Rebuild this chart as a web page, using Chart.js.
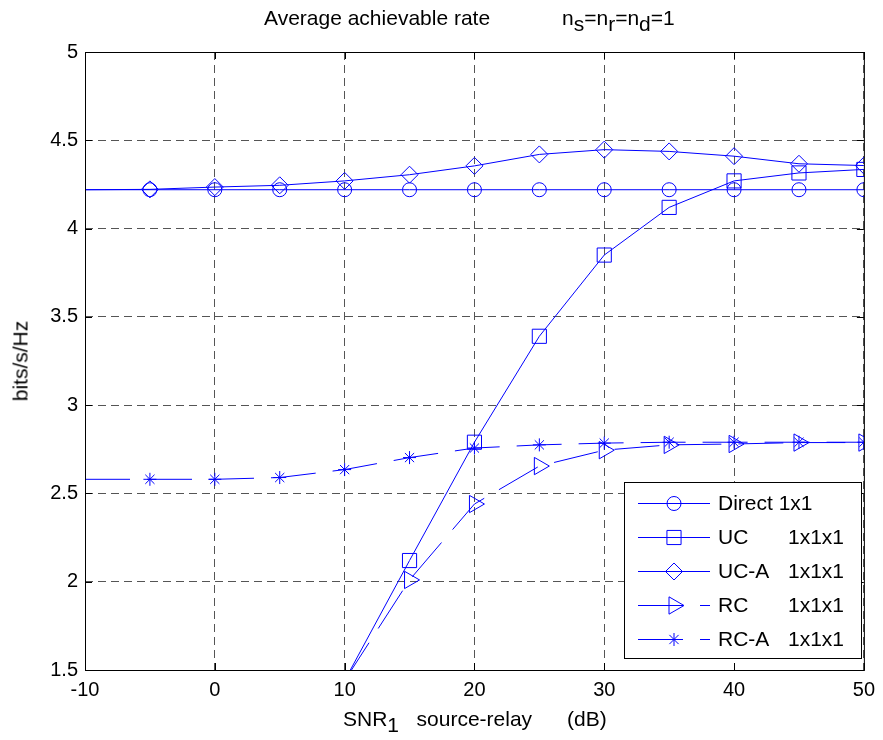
<!DOCTYPE html>
<html>
<head>
<meta charset="utf-8">
<script src="https://cdn.jsdelivr.net/npm/chart.js@4/dist/chart.umd.min.js"></script>
<style>
  body { margin: 0; background: #fff; }
  #wrap { position: relative; width: 883px; height: 740px; font-family: "Liberation Sans", Arial, sans-serif; color: #000; }
  #chart { position: absolute; left: 0; top: 0; }
  .lbl { position: absolute; font-size: 21px; line-height: 21px; white-space: pre; }
  .lbl sub { font-size: 21px; vertical-align: -6px; line-height: 0; }
  #ylabel { left: 20px; top: 361px; transform: translate(-50%, -50%) rotate(-90deg); }
  #xlabel { left: 343px; top: 708px; }
</style>
</head>
<body>
<div id="wrap">
  <canvas id="chart" width="883" height="740"></canvas>
  <div class="lbl" style="left:264px;top:7px">Average achievable rate</div>
  <div class="lbl" style="left:562px;top:7px">n<sub>s</sub>=n<sub>r</sub>=n<sub>d</sub>=1</div>
  <div class="lbl" id="xlabel">SNR<sub>1</sub>   source-relay      (dB)</div>
  <div class="lbl" id="ylabel">bits/s/Hz</div>
</div>
<script>
// SNR of source-relay link (dB)
const snrDb = [-10, -5, 0, 5, 10, 15, 20, 25, 30, 35, 40, 45, 50];

const direct = [4.22, 4.22, 4.22, 4.22, 4.22, 4.22, 4.22, 4.22, 4.22, 4.22, 4.22, 4.22, 4.22];
const uc = [null, null, null, null, 1.44, 2.12, 2.79, 3.39, 3.85, 4.12, 4.27, 4.315, 4.335];
const ucA = [4.22, 4.222, 4.235, 4.245, 4.27, 4.305, 4.355, 4.42, 4.447, 4.437, 4.41, 4.367, 4.357];
const rc = [null, null, null, null, 1.44, 2.01, 2.44, 2.655, 2.745, 2.775, 2.78, 2.788, 2.788];
const rcA = [2.58, 2.58, 2.58, 2.59, 2.635, 2.703, 2.757, 2.775, 2.785, 2.79, 2.79, 2.79, 2.79];

const seriesNames = ['Direct 1x1', 'UC', 'UC-A', 'RC', 'RC-A'];
const seriesSizes = ['', '1x1x1', '1x1x1', '1x1x1', '1x1x1'];

const xTicks = [-10, 0, 10, 20, 30, 40, 50];
const yTicks = [1.5, 2, 2.5, 3, 3.5, 4, 4.5, 5];

const blue = 'rgb(0,0,255)';
const dashed = [45, 17];

function pts(values) {
  return snrDb.map((x, i) => ({ x: x, y: values[i] }));
}

// no marker drawn at the left axis limit
function markerSize(r) {
  return ctx => (ctx.raw && ctx.raw.x <= -10 ? 0 : r);
}

function series(label, values, style, r, rot, dash) {
  return {
    label: label,
    data: pts(values),
    borderColor: blue,
    borderWidth: 1,
    borderDash: dash,
    pointStyle: style,
    pointRadius: markerSize(r),
    pointRotation: rot,
    pointBorderColor: blue,
    pointBackgroundColor: 'rgba(0,0,0,0)',
    pointBorderWidth: 1,
    tension: 0,
    spanGaps: false
  };
}

const frameAndLegend = {
  id: 'frameAndLegend',
  afterDraw(chart) {
    const { ctx, chartArea: a, scales } = chart;
    ctx.save();
    ctx.setLineDash([]);
    ctx.strokeStyle = '#000';
    ctx.lineWidth = 1;
    ctx.strokeRect(a.left + 0.5, a.top + 0.5, a.right - a.left, a.bottom - a.top);

    // inward tick marks
    ctx.beginPath();
    xTicks.forEach(v => {
      const px = Math.round(scales.x.getPixelForValue(v)) + 0.5;
      ctx.moveTo(px, a.bottom); ctx.lineTo(px, a.bottom - 7);
      ctx.moveTo(px, a.top); ctx.lineTo(px, a.top + 7);
    });
    yTicks.forEach(v => {
      const py = Math.round(scales.y.getPixelForValue(v)) + 0.5;
      ctx.moveTo(a.left, py); ctx.lineTo(a.left + 7, py);
      ctx.moveTo(a.right, py); ctx.lineTo(a.right - 7, py);
    });
    ctx.stroke();

    // legend box
    const bx = 624, by = 482, bw = 237, bh = 176;
    ctx.fillStyle = '#fff';
    ctx.fillRect(bx, by, bw, bh);
    ctx.strokeRect(bx + 0.5, by + 0.5, bw, bh);

    ctx.font = '21px "Liberation Sans", Arial, sans-serif';
    ctx.textBaseline = 'middle';
    chart.data.datasets.forEach((ds, i) => {
      const y = 503 + i * 34;
      ctx.strokeStyle = blue;
      ctx.lineWidth = 1;
      ctx.setLineDash(ds.borderDash || []);
      ctx.beginPath();
      ctx.moveTo(638, y + 0.5);
      ctx.lineTo(710, y + 0.5);
      ctx.stroke();
      ctx.setLineDash([]);
      ctx.fillStyle = 'rgba(0,0,0,0)';
      Chart.helpers.drawPoint(ctx, {
        pointStyle: ds.pointStyle,
        radius: ds.pointRadius({ raw: { x: 0 } }),
        rotation: ds.pointRotation,
        borderWidth: 1
      }, 674, y + 0.5);
      ctx.fillStyle = '#000';
      ctx.fillText(seriesNames[i], 718, y + 1);
      if (seriesSizes[i]) ctx.fillText(seriesSizes[i], 788, y + 1);
    });
    ctx.restore();
  }
};

Chart.defaults.font.family = '"Liberation Sans", Arial, sans-serif';
Chart.defaults.color = '#000';

new Chart(document.getElementById('chart'), {
  type: 'line',
  data: {
    datasets: [
      series(seriesNames[0], direct, 'circle', 7, 0, []),
      series(seriesNames[1], uc, 'rect', 10, 0, []),
      series(seriesNames[2], ucA, 'rectRot', 8.5, 0, []),
      series(seriesNames[3], rc, 'triangle', 10, 90, dashed),
      series(seriesNames[4], rcA, 'star', 6.5, 0, dashed)
    ]
  },
  options: {
    responsive: false,
    animation: false,
    devicePixelRatio: 1,
    events: [],
    layout: { padding: { left: 0, top: 52, right: 16, bottom: 0 } },
    plugins: {
      legend: { display: false },
      title: { display: false },
      tooltip: { enabled: false }
    },
    scales: {
      x: {
        type: 'linear',
        min: -10,
        max: 50,
        afterBuildTicks: s => { s.ticks = xTicks.map(v => ({ value: v })); },
        afterFit: s => { s.height = 70; },
        ticks: { font: { size: 20 }, padding: 8, maxRotation: 0, callback: v => String(v) },
        grid: { color: '#555', drawTicks: false },
        border: { display: false, dash: [8, 5] }
      },
      y: {
        type: 'linear',
        min: 1.5,
        max: 5,
        afterBuildTicks: s => { s.ticks = yTicks.map(v => ({ value: v })); },
        afterFit: s => { s.width = 85; },
        ticks: { font: { size: 20 }, padding: 7, callback: v => String(v) },
        grid: { color: '#555', drawTicks: false },
        border: { display: false, dash: [8, 5] }
      }
    }
  },
  plugins: [frameAndLegend]
});
</script>
</body>
</html>
